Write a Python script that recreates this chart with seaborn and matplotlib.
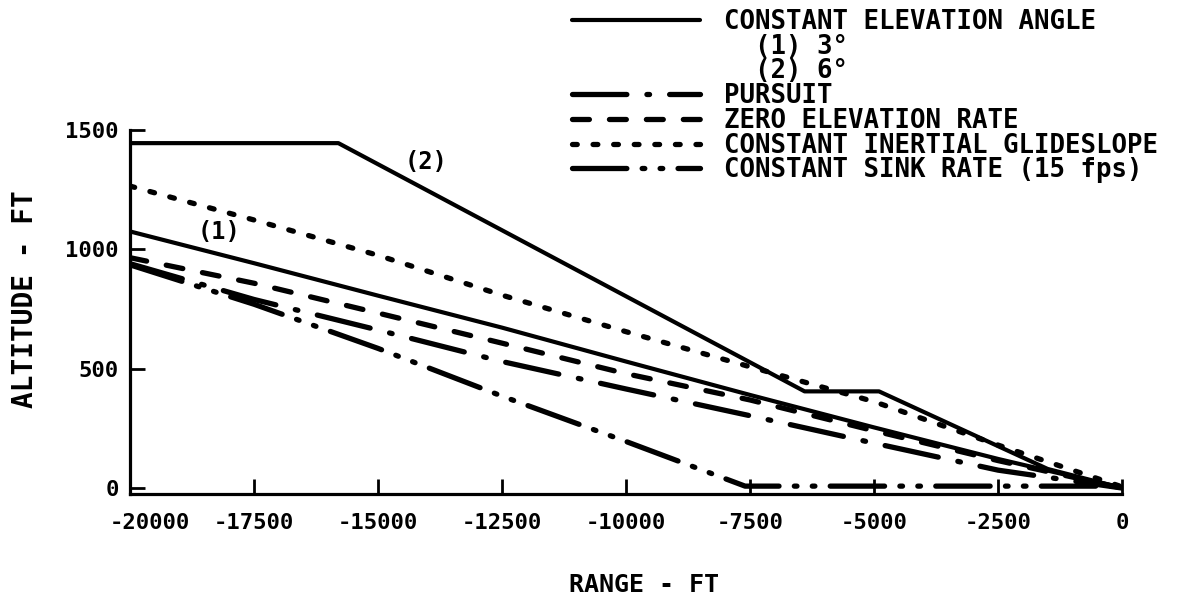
import matplotlib
matplotlib.use("Agg")
import matplotlib.pyplot as plt
import matplotlib.transforms as mtransforms
from matplotlib.lines import Line2D
import pandas as pd
import seaborn as sns

# ---- data -------------------------------------------------------------
range_ticks = [-20000, -17500, -15000, -12500, -10000, -7500, -5000, -2500, 0]
altitude_ticks = [0, 500, 1000, 1500]

grid_range = [-20000, -17500, -15000, -12500, -10000, -7500, -5000, -2500, 0]

# constant elevation angle (1) 3 deg
elev3_range = grid_range
elev3_alt = [1075, 942, 806, 672, 530, 390, 254, 122, 0]

# constant elevation angle (2) 6 deg
elev6_range = [-20000, -15800, -6400, -4900, -1500, 0]
elev6_alt = [1445, 1445, 405, 405, 80, 0]

pursuit_range = grid_range
pursuit_alt = [940, 790, 662, 530, 415, 303, 188, 75, 0]

zero_rate_range = grid_range
zero_rate_alt = [965, 858, 733, 607, 479, 369, 240, 115, 0]

glideslope_range = grid_range
glideslope_alt = [1265, 1123, 975, 808, 655, 508, 362, 180, 5]

sink_range = [-20000, -17500, -15000, -12500, -10000, -7600, 0]
sink_alt = [935, 770, 585, 385, 195, 8, 8]

legend_labels = [
    "CONSTANT ELEVATION ANGLE",
    "  (1) 3°",
    "  (2) 6°",
    "PURSUIT",
    "ZERO ELEVATION RATE",
    "CONSTANT INERTIAL GLIDESLOPE",
    "CONSTANT SINK RATE (15 fps)",
]

paths = ["elev3", "elev6", "pursuit", "zero_rate", "glideslope", "sink"]
frames = []
for name, xs, ys in [
    ("elev3", elev3_range, elev3_alt),
    ("elev6", elev6_range, elev6_alt),
    ("pursuit", pursuit_range, pursuit_alt),
    ("zero_rate", zero_rate_range, zero_rate_alt),
    ("glideslope", glideslope_range, glideslope_alt),
    ("sink", sink_range, sink_alt),
]:
    frames.append(pd.DataFrame({"range": xs, "altitude": ys, "path": name}))
df = pd.concat(frames, ignore_index=True)

# ---- styling ------------------------------------------------------------
sns.set_style("ticks")
plt.rcParams.update({
    "font.family": ["DejaVu Sans Mono", "DejaVu Sans"],
    "font.weight": "bold",
    "axes.labelweight": "bold",
    "text.color": "black",
    "axes.labelcolor": "black",
    "xtick.color": "black",
    "ytick.color": "black",
})

dash_map = {
    "elev3": "",
    "elev6": "",
    "pursuit": (10.3, 3.8, 0.5, 3.8),
    "zero_rate": (3.2, 3.8),
    "glideslope": (0.9, 3.0),
    "sink": (10.3, 2.9, 0.5, 2.9, 0.5, 2.9),
}
width_map = {
    "elev3": 3.0,
    "elev6": 3.0,
    "pursuit": 3.8,
    "zero_rate": 3.8,
    "glideslope": 3.8,
    "sink": 3.8,
}

fig = plt.figure(figsize=(11.77, 5.98), dpi=100)
ax = fig.add_axes([0.1105, 0.1739, 0.8428, 0.6087])

sns.lineplot(
    data=df, x="range", y="altitude",
    style="path", style_order=paths, dashes=dash_map,
    size="path", size_order=paths, sizes=width_map,
    estimator=None, color="black", dash_capstyle="round",
    legend=False, ax=ax,
)

ax.set_xlim(-20000, 0)
ax.set_ylim(-25, 1500)
ax.set_xticks(range_ticks)
ax.set_xticklabels([str(v) for v in range_ticks])
ax.set_yticks(altitude_ticks)
ax.set_yticklabels([str(v) for v in altitude_ticks])

for side in ("top", "right"):
    ax.spines[side].set_visible(False)
for side in ("left", "bottom"):
    ax.spines[side].set_linewidth(2.3)
    ax.spines[side].set_color("black")

ax.tick_params(axis="both", direction="in", length=11, width=2,
               labelsize=16, colors="black", bottom=True, left=True)
ax.tick_params(axis="y", pad=8)
ax.tick_params(axis="x", pad=14)

# shift the leftmost range label clear of the altitude axis
first = ax.get_xticklabels()[0]
first.set_transform(first.get_transform()
                    + mtransforms.ScaledTranslation(0.2, 0, fig.dpi_scale_trans))

ax.set_xlabel("RANGE - FT", fontsize=18, fontweight="bold", color="black")
ax.xaxis.label.set_va("center")
ax.xaxis.set_label_coords(0.518, -0.25)
ax.set_ylabel("ALTITUDE - FT", fontsize=20, fontweight="bold", color="black")
ax.yaxis.label.set_va("center")
ax.yaxis.label.set_ha("center")
ax.yaxis.set_label_coords(-0.106, 0.536)

ax.text(-18200, 1072, "(1)", fontsize=17, ha="center", va="center")
ax.text(-14030, 1366, "(2)", fontsize=17, ha="center", va="center")

# legend: one sample line per method, blank rows for the two angles
lines = ax.get_lines()
by_path = dict(zip(paths, lines))
blank = Line2D([], [], linestyle="none")
handles = [by_path["elev3"], blank, blank, by_path["pursuit"],
           by_path["zero_rate"], by_path["glideslope"], by_path["sink"]]
fig.legend(handles, legend_labels, loc="upper left",
           bbox_to_anchor=(572 / 1177, 1 - 9 / 598),
           frameon=False, borderpad=0, borderaxespad=0,
           handlelength=5.0, handletextpad=0.9, labelspacing=-0.05,
           prop={"size": 18.5, "weight": "bold"})

fig.savefig("out.png", dpi=100, facecolor="white")
